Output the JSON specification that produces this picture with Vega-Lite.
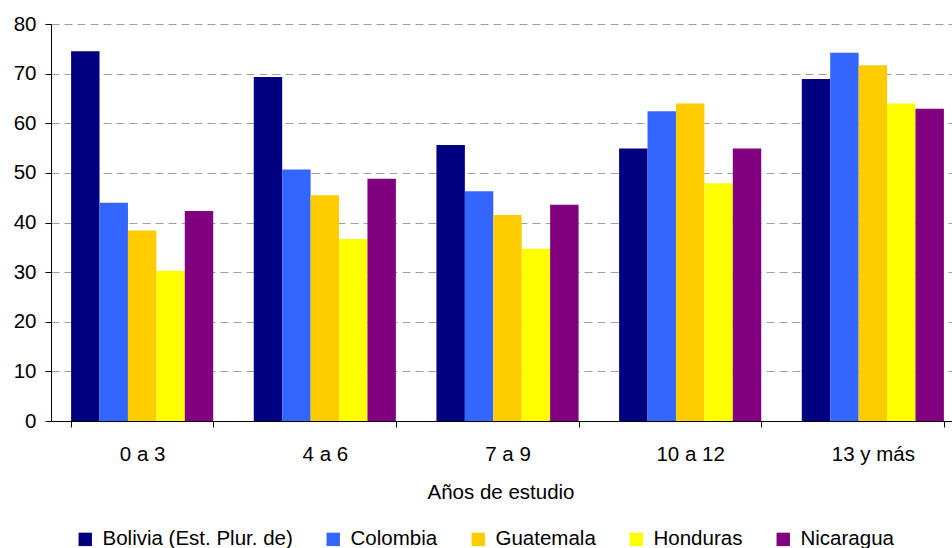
{
  "$schema": "https://vega.github.io/schema/vega-lite/v6.json",
  "width": 899,
  "height": 397,
  "autosize": {"type": "none"},
  "padding": {"left": 51, "top": 24, "right": 2, "bottom": 127},
  "data": {
    "values": [
      {"anios": "0 a 3", "pais": "Bolivia (Est. Plur. de)", "valor": 74.5},
      {"anios": "0 a 3", "pais": "Colombia", "valor": 44.0},
      {"anios": "0 a 3", "pais": "Guatemala", "valor": 38.4},
      {"anios": "0 a 3", "pais": "Honduras", "valor": 30.3},
      {"anios": "0 a 3", "pais": "Nicaragua", "valor": 42.3},
      {"anios": "4 a 6", "pais": "Bolivia (Est. Plur. de)", "valor": 69.3},
      {"anios": "4 a 6", "pais": "Colombia", "valor": 50.7},
      {"anios": "4 a 6", "pais": "Guatemala", "valor": 45.5},
      {"anios": "4 a 6", "pais": "Honduras", "valor": 36.7},
      {"anios": "4 a 6", "pais": "Nicaragua", "valor": 48.8},
      {"anios": "7 a 9", "pais": "Bolivia (Est. Plur. de)", "valor": 55.6},
      {"anios": "7 a 9", "pais": "Colombia", "valor": 46.3},
      {"anios": "7 a 9", "pais": "Guatemala", "valor": 41.5},
      {"anios": "7 a 9", "pais": "Honduras", "valor": 34.7},
      {"anios": "7 a 9", "pais": "Nicaragua", "valor": 43.6},
      {"anios": "10 a 12", "pais": "Bolivia (Est. Plur. de)", "valor": 54.9},
      {"anios": "10 a 12", "pais": "Colombia", "valor": 62.4},
      {"anios": "10 a 12", "pais": "Guatemala", "valor": 64.0},
      {"anios": "10 a 12", "pais": "Honduras", "valor": 47.9},
      {"anios": "10 a 12", "pais": "Nicaragua", "valor": 54.9},
      {"anios": "13 y más", "pais": "Bolivia (Est. Plur. de)", "valor": 68.9},
      {"anios": "13 y más", "pais": "Colombia", "valor": 74.2},
      {"anios": "13 y más", "pais": "Guatemala", "valor": 71.7},
      {"anios": "13 y más", "pais": "Honduras", "valor": 64.0},
      {"anios": "13 y más", "pais": "Nicaragua", "valor": 62.9}
    ]
  },
  "mark": {"type": "bar"},
  "encoding": {
    "x": {
      "field": "anios",
      "type": "nominal",
      "sort": ["0 a 3", "4 a 6", "7 a 9", "10 a 12", "13 y más"],
      "scale": {"paddingInner": 0.222, "paddingOuter": 0.11, "range": [0, 913]},
      "axis": {
        "title": "Años de estudio",
        "labelAngle": 0,
        "tickBand": "extent",
        "tickSize": 6,
        "labelPadding": 17,
        "titlePadding": 18,
        "titleX": 449.5,
        "grid": false
      }
    },
    "xOffset": {"field": "pais", "type": "nominal", "scale": {"paddingInner": 0, "paddingOuter": 0}},
    "y": {
      "field": "valor",
      "type": "quantitative",
      "scale": {"domain": [0, 80], "nice": false},
      "axis": {
        "title": null,
        "values": [0, 10, 20, 30, 40, 50, 60, 70, 80],
        "tickSize": 6,
        "labelPadding": 9,
        "grid": true,
        "gridColor": "#A0A0A0",
        "gridDash": [8, 5],
        "gridWidth": 1
      }
    },
    "color": {
      "field": "pais",
      "type": "nominal",
      "scale": {
        "domain": ["Bolivia (Est. Plur. de)", "Colombia", "Guatemala", "Honduras", "Nicaragua"],
        "range": ["#000080", "#3366FF", "#FFCC00", "#FFFF00", "#800080"]
      },
      "legend": {
        "title": null,
        "orient": "none",
        "direction": "horizontal",
        "columns": 5,
        "legendX": 24,
        "legendY": 505,
        "symbolType": "square",
        "symbolSize": 180,
        "symbolStrokeWidth": 0,
        "symbolOpacity": 1,
        "labelOffset": 7,
        "columnPadding": 30,
        "labelLimit": 400,
        "labelFontSize": 20.5,
        "labelFont": "Liberation Sans",
        "labelColor": "#000000"
      }
    }
  },
  "config": {
    "view": {"stroke": null},
    "font": "Liberation Sans",
    "axis": {
      "labelFont": "Liberation Sans",
      "titleFont": "Liberation Sans",
      "labelFontSize": 20.5,
      "titleFontSize": 20.5,
      "titleFontWeight": "normal",
      "labelColor": "#000000",
      "titleColor": "#000000",
      "domainColor": "#000000",
      "tickColor": "#000000",
      "domainWidth": 1,
      "tickWidth": 1
    }
  }
}
